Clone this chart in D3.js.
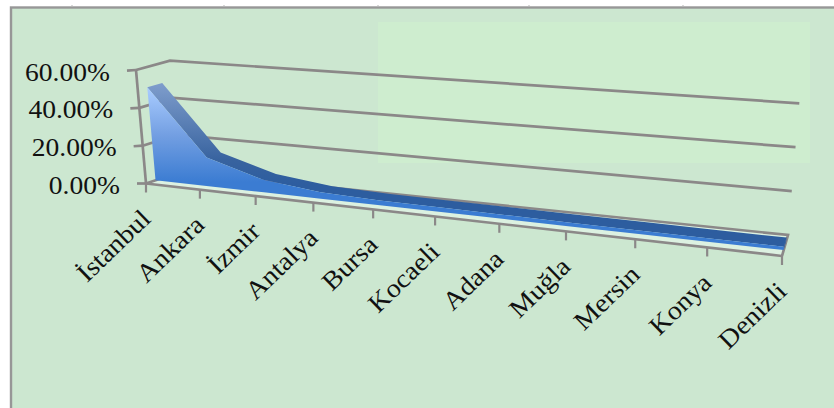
<!DOCTYPE html>
<html>
<head>
<meta charset="utf-8">
<script src="https://cdn.jsdelivr.net/npm/d3@7"></script>
<style>
html,body{margin:0;padding:0;background:#fff;overflow:hidden}
svg{display:block}
text{font-family:"Liberation Serif",serif;fill:#111}
</style>
</head>
<body>
<svg id="chart" width="834" height="408"></svg>
<script>
// Share of the total per province, in percent
const provinces = ["İstanbul","Ankara","İzmir","Antalya","Bursa","Kocaeli","Adana","Muğla","Mersin","Konya","Denizli"];
const shares = [49.5,15,6.5,3.2,2.4,2.2,2.0,1.8,1.7,1.6,1.5];
const valueTicks = [0,20,40,60];
const tickLabels = ["0.00%","20.00%","40.00%","60.00%"];
const rulerMarks = [72,224,378,529,683];

const svg = d3.select("#chart");
const defs = svg.append("defs");

// Chart frame, small marks on its top edge, and the lighter rectangle behind the plot
svg.append("rect").attr("x",11).attr("y",7.5).attr("width",840).attr("height",420)
  .attr("fill","#cce7d0").attr("stroke","#979797").attr("stroke-width",2.4);
svg.selectAll("line.mark").data(rulerMarks).join("line").attr("class","mark")
  .attr("x1",d=>d).attr("x2",d=>d).attr("y1",5).attr("y2",7).attr("stroke","#b5b5b5");
svg.append("rect").attr("x",378).attr("y",22).attr("width",432).attr("height",141).attr("fill","#ceedcf");

// Corners of the 3D box: floor corners and the 60% corners
const corners = {
  frontLeft:{b:[146,183.5],t:[136,70]},
  frontRight:{b:[782,256],t:[793,124]},
  backLeft:{b:[180,172],t:[170,60.7]},
  backRight:{b:[788,235],t:[799.3,103.3]}
};
const lerp = (a,b,k)=>[a[0]+(b[0]-a[0])*k,a[1]+(b[1]-a[1])*k];
const yScale = d3.scaleLinear().domain([0,60]).range([0,1]);
const indexScale = d3.scaleLinear().domain([0,provinces.length-1]).range([0,1]);
// Foreshortening along the category axis
const persp = i=>{const t=indexScale(i);return t/(1+0.2*(1-t));};

// Maps (category position, value, depth) to the screen; depth 0 is the front edge
function project(i,v,d){
  const u=persp(i), h=yScale(v);
  const fl=lerp(corners.frontLeft.b,corners.frontLeft.t,h);
  const fr=lerp(corners.frontRight.b,corners.frontRight.t,h);
  const bl=lerp(corners.backLeft.b,corners.backLeft.t,h);
  const br=lerp(corners.backRight.b,corners.backRight.t,h);
  return lerp(lerp(fl,fr,u),lerp(bl,br,u),d);
}
const last = provinces.length-1;
const line = d3.line();
const grey = "#8b8888";
const stroke = (pts,w=2.7)=>svg.append("path").attr("d",line(pts)).attr("fill","none")
  .attr("stroke",grey).attr("stroke-width",w);

// Pale floor of the box
svg.append("path")
  .attr("d",line([project(0,0,0),project(0,0,1),project(last,0,1),project(last,0,0)])+"Z")
  .attr("fill","#dcf1e1");

// Back wall gridlines and their continuation on the side wall
valueTicks.forEach(v=>{
  if(v>0) stroke([project(0,v,0),project(0,v,1),project(last,v,1)]);
});
// Floor outline
stroke([project(0,0,0),project(0,0,1),project(last,0,1),project(last,0,0)]);
stroke([project(0,0,0),project(last,0,0)]);

// Value axis with outward ticks
stroke([project(0,60,0),project(0,0,0)]);
valueTicks.forEach(v=>{
  const p=project(0,v,0);
  stroke([[p[0]-9,p[1]+(v?0.6:0)],p]);
});

// Category ticks below the front edge
provinces.forEach((_,i)=>{
  const p=project(i,0,0);
  stroke([p,[p[0],p[1]+9]],2.2);
});

// Ribbon gradients
const frontGrad = defs.append("linearGradient").attr("id","frontFace")
  .attr("gradientUnits","userSpaceOnUse").attr("x1",0).attr("x2",0).attr("y1",88).attr("y2",182);
frontGrad.append("stop").attr("offset",0).attr("stop-color","#a9ccff");
frontGrad.append("stop").attr("offset",0.5).attr("stop-color","#739fe2");
frontGrad.append("stop").attr("offset",1).attr("stop-color","#3b7cd2");
const topGrad = defs.append("linearGradient").attr("id","topFace")
  .attr("gradientUnits","userSpaceOnUse").attr("x1",0).attr("x2",0).attr("y1",85).attr("y2",185);
topGrad.append("stop").attr("offset",0).attr("stop-color","#7d9ccb");
topGrad.append("stop").attr("offset",0.75).attr("stop-color","#38639f");
topGrad.append("stop").attr("offset",1).attr("stop-color","#2d5d9f");

// Area series: top surface first, then the front face, then the closing end
const zFront=0.28, zBack=0.72;
const idx=d3.range(provinces.length);
const topFace=[...idx.map(i=>project(i,shares[i],zFront)),...idx.slice().reverse().map(i=>project(i,shares[i],zBack))];
svg.append("path").attr("d",line(topFace)+"Z").attr("fill","url(#topFace)");
const frontFace=[...idx.map(i=>project(i,shares[i],zFront)),...idx.slice().reverse().map(i=>project(i,0,zFront))];
svg.append("path").attr("d",line(frontFace)+"Z").attr("fill","url(#frontFace)");
const endCap=[project(last,0,zFront),project(last,shares[last],zFront),project(last,shares[last],zBack),project(last,0,zBack)];
svg.append("path").attr("d",line(endCap)+"Z").attr("fill","#2d5d9f");

// Value labels, slightly widened
valueTicks.forEach((v,k)=>{
  const p=project(0,v,0);
  svg.append("text").text(tickLabels[k])
    .attr("text-anchor","end").attr("font-size",26)
    .attr("transform",`translate(${p[0]-26},${p[1]+10.5}) scale(1.06,1)`);
});

// Slanted category labels ending just under each tick
provinces.forEach((name,i)=>{
  const p=project(i,0,0);
  svg.append("text").text(name)
    .attr("text-anchor","end").attr("font-size",26)
    .attr("transform",`translate(${p[0]+6},${p[1]+37}) rotate(-44) scale(1.08,1)`);
});
</script>
</body>
</html>
